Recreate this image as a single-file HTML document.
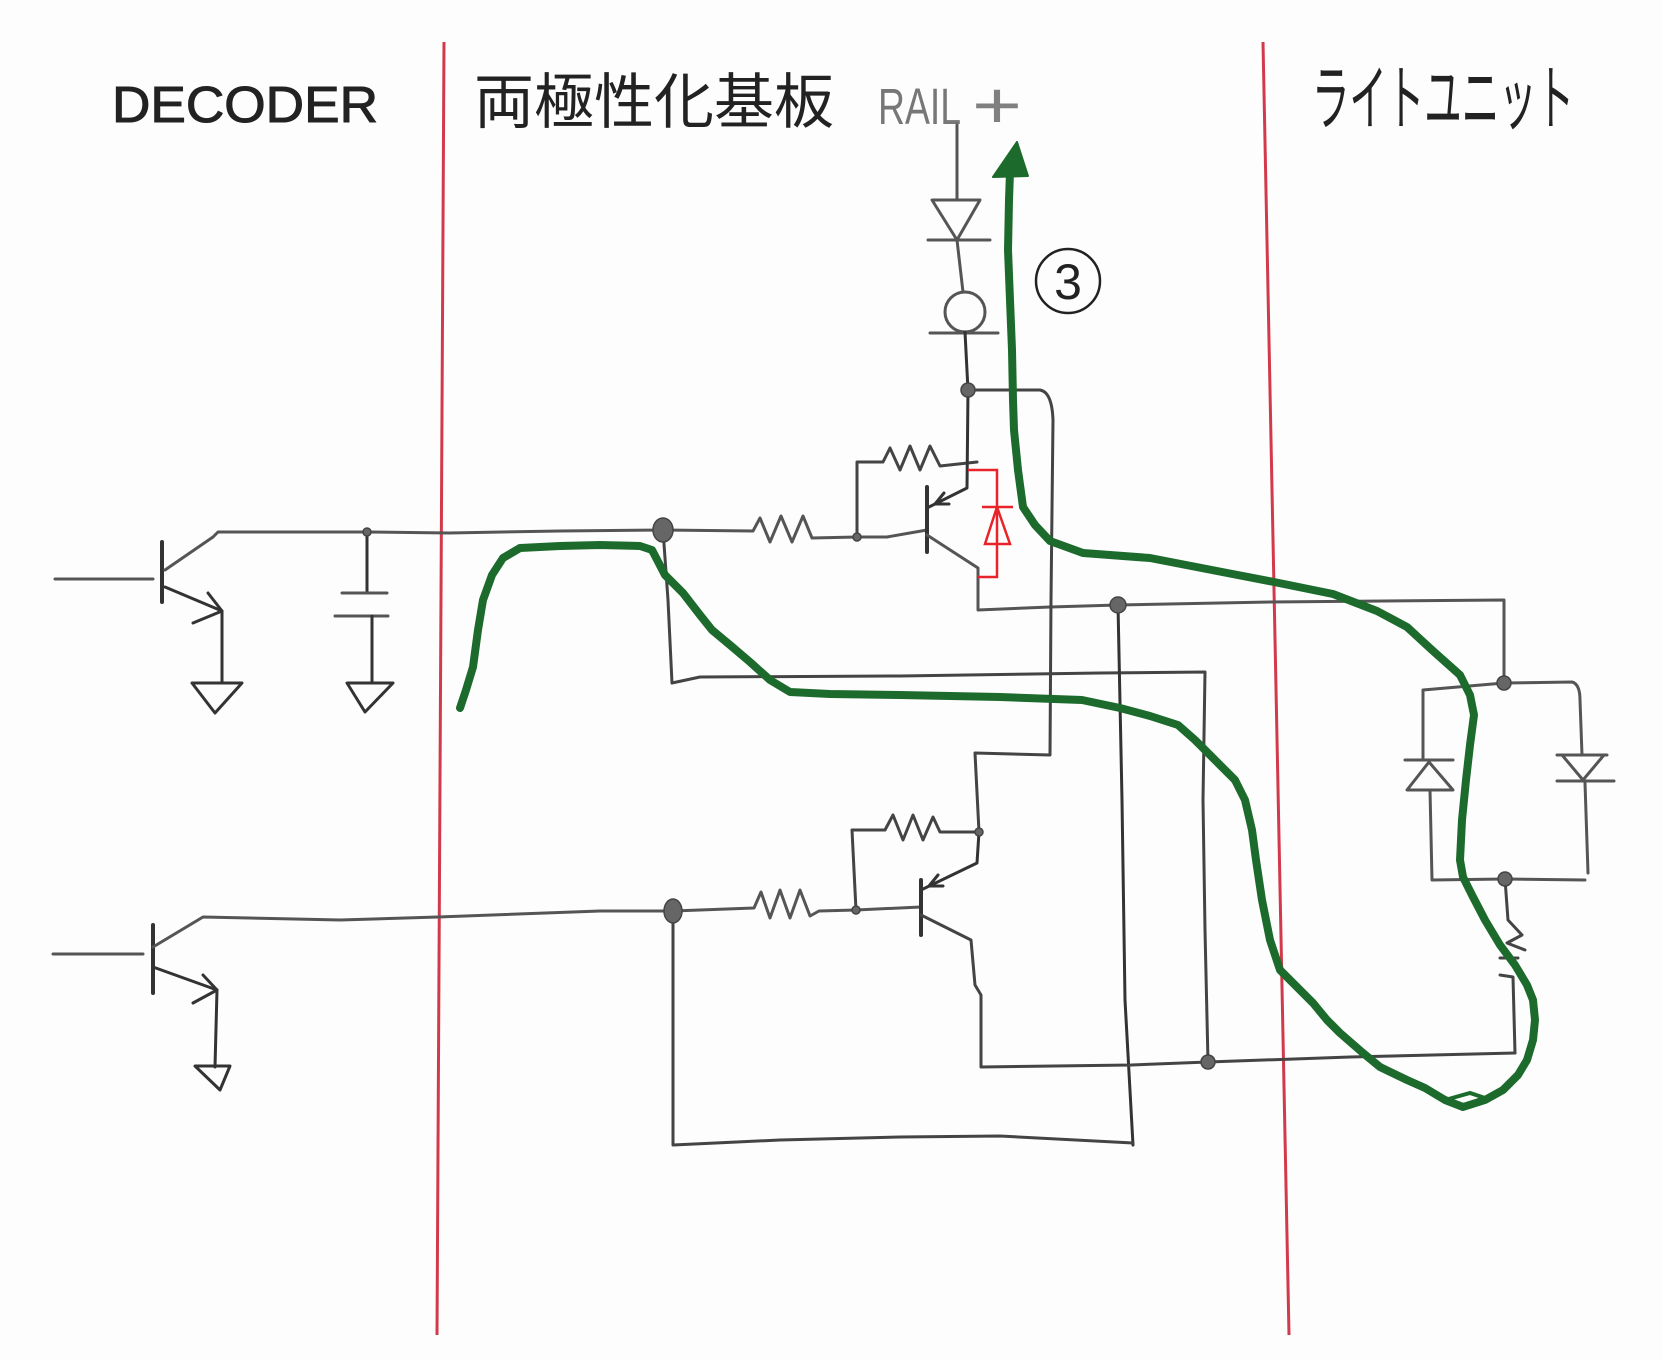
<!DOCTYPE html>
<html><head><meta charset="utf-8"><style>
html,body{margin:0;padding:0;background:#fff;}
svg{display:block;}
</style></head><body>
<svg width="1662" height="1360" viewBox="0 0 1662 1360" xmlns="http://www.w3.org/2000/svg">
<rect width="1662" height="1360" fill="#fdfdfd"/>

<!-- red dividers -->
<line x1="444" y1="42" x2="437" y2="1335" stroke="#d23a4c" stroke-width="3"/>
<line x1="1263" y1="42" x2="1289" y2="1335" stroke="#d23a4c" stroke-width="3"/>

<!-- headings -->
<text x="112" y="122" font-family="'Liberation Sans', sans-serif" font-size="51" textLength="266" lengthAdjust="spacingAndGlyphs" fill="#222" stroke="#222" stroke-width="1">DECODER</text>
<text x="474" y="123" font-family="'Liberation Sans','Noto Sans CJK JP',sans-serif" font-size="60" textLength="360" lengthAdjust="spacingAndGlyphs" fill="#222">両極性化基板</text>
<text x="878" y="124" font-family="'Liberation Sans', sans-serif" font-size="51" textLength="83" lengthAdjust="spacingAndGlyphs" fill="#777">RAIL</text>
<text x="972" y="128" font-family="'Liberation Sans', sans-serif" font-size="66" textLength="50" lengthAdjust="spacingAndGlyphs" fill="#808080">+</text>
<text x="1312" y="124" font-family="'Liberation Sans','Noto Sans CJK JP',sans-serif" font-size="72" textLength="262" lengthAdjust="spacingAndGlyphs" fill="#222">ライトユニット</text>

<!-- circled 3 -->
<circle cx="1068" cy="281" r="32" fill="none" stroke="#222" stroke-width="2.5"/>
<text x="1068" y="299" text-anchor="middle" font-family="'Liberation Sans', sans-serif" font-size="50" fill="#222">3</text>

<!-- wires -->
<g fill="none" stroke="#555" stroke-width="3" stroke-linecap="round" stroke-linejoin="round">
  <!-- decoder upper transistor -->
  <path d="M55,579 L153,579"/>
  <path d="M162,542 L162,602" stroke-width="4" stroke="#333"/>
  <path d="M165,570 L213,537 L218,532 L367,532 L449,533 L560,531 L663,530"/>
  <path d="M165,587 L222,611" stroke="#333"/>
  <path d="M208,593 L222,611 L193,623" stroke="#333"/>
  <path d="M222,611 L222,683" stroke="#333"/>
  <path d="M192,683 L242,683 L215,713 Z" stroke="#333"/>
  <!-- capacitor -->
  <path d="M367,532 L367,593" stroke="#333"/>
  <path d="M342,593 L387,593"/>
  <path d="M335,616 L388,616"/>
  <path d="M372,616 L372,683" stroke="#333"/>
  <path d="M347,683 L393,683 L365,712 Z" stroke="#333"/>

  <!-- decoder lower transistor -->
  <path d="M53,954 L143,954"/>
  <path d="M153,925 L153,993" stroke-width="4" stroke="#333"/>
  <path d="M153,947 L203,917 L340,920 L438,917 L600,911 L673,911"/>
  <path d="M153,967 L217,990" stroke="#333"/>
  <path d="M203,975 L217,990 L193,1003" stroke="#333"/>
  <path d="M217,990 L215,1067" stroke="#333"/>
  <path d="M195,1066 L230,1066 L220,1090 Z" stroke="#333"/>

  <!-- upper middle transistor -->
  <path d="M663,530 L753,531 L760,518 L770,542 L781,516 L792,542 L803,516 L812,538 L857,537 L887,537 L927,530"/>
  <path d="M857,537 L857,462 L883,462 L890,448 L900,470 L910,446 L920,470 L930,446 L940,466 L977,462" stroke="#444"/>
  <path d="M927,487 L927,552" stroke-width="4" stroke="#333"/>
  <path d="M927,508 L967,488 L968,390" stroke="#333"/>
  <path d="M949,504 L935,504 L944,493" stroke="#333"/>
  <path d="M927,535 L978,568 L978,610 L1050,607 L1118,605 L1270,602 L1504,600 L1504,683"/>
  <path d="M663,530 L668,600 L672,683 L700,677 L900,676 L1100,673 L1205,672 L1203,800 L1205,930 L1208,1062" stroke="#444"/>

  <!-- rail chain -->
  <path d="M957,125 L957,200"/>
  <path d="M932,200 L980,200 L957,240 Z"/>
  <path d="M928,240 L990,240"/>
  <path d="M957,240 L963,292"/>
  <circle cx="965" cy="312" r="20"/>
  <path d="M930,333 L998,333"/>
  <path d="M965,332 L968,390" stroke="#333"/>
  <path d="M968,390 L1040,390 Q1052,392 1053,420 L1051,600 L1050,755 L975,753 L979,832" stroke="#444"/>

  <!-- V2 -->
  <path d="M1118,605 L1122,800 L1125,1000 L1133,1145" stroke="#333"/>

  <!-- lower middle transistor -->
  <path d="M673,911 L754,908 L761,892 L770,918 L780,890 L790,918 L800,890 L810,916 L819,911 L856,910 L921,907"/>
  <path d="M856,910 L852,830 L885,830 L893,815 L903,840 L913,815 L923,840 L933,817 L940,832 L979,832" stroke="#444"/>
  <path d="M979,832 L977,863 L921,890" stroke="#333"/>
  <path d="M943,886 L929,886 L938,875" stroke="#333"/>
  <path d="M921,880 L921,935" stroke-width="4" stroke="#333"/>
  <path d="M921,915 L971,940 L975,985 L981,995 L981,1067 L1131,1065 L1208,1062 L1350,1057 L1515,1053" stroke="#444"/>
  <path d="M673,911 L673,1145 L780,1140 L900,1137 L1000,1136 L1133,1143" stroke="#444"/>

  <!-- light unit -->
  <path d="M1504,683 L1423,690 L1423,760"/>
  <path d="M1405,760 L1453,760"/>
  <path d="M1429,762 L1407,790 L1453,790 Z"/>
  <path d="M1430,790 L1432,880 L1505,879 L1585,880"/>
  <path d="M1504,683 L1572,682 Q1580,684 1580,700 L1582,755"/>
  <path d="M1557,755 L1607,755"/>
  <path d="M1562,755 L1583,780 L1604,755"/>
  <path d="M1557,781 L1614,781"/>
  <path d="M1585,783 L1588,873"/>
  <path d="M1505,879 L1508,920 L1522,935 L1507,943 L1525,950 M1500,958 L1518,958 M1500,975 L1513,977 L1515,1053" stroke="#444"/>
</g>

<!-- red diode -->
<g fill="none" stroke="#e8242a" stroke-width="2.5">
  <path d="M968,470 L997,470 L997,577 L978,577"/>
  <path d="M997,507 L985,544 L1010,544 Z"/>
  <path d="M982,507 L1013,507"/>
</g>

<!-- junction dots -->
<g fill="#666" stroke="#444" stroke-width="1.5">
  <ellipse cx="663" cy="530" rx="10" ry="12"/>
  <ellipse cx="673" cy="911" rx="9" ry="12"/>
  <circle cx="968" cy="390" r="7"/>
  <circle cx="1118" cy="605" r="8"/>
  <circle cx="1208" cy="1062" r="7"/>
  <circle cx="1504" cy="683" r="7"/>
  <circle cx="1505" cy="879" r="7"/>
  <circle cx="367" cy="532" r="4"/>
  <circle cx="857" cy="537" r="4"/>
  <circle cx="856" cy="910" r="4"/>
  <circle cx="979" cy="832" r="4"/>
</g>

<!-- green current path -->
<path d="M460,708 L466,690 L473,667 L478,630 L483,600 L492,575 L503,558 L520,548 L560,546 L600,545 L640,546 L652,550 L665,575 L683,593 L700,615 L712,630 L730,645 L750,662 L770,680 L790,692 L830,694 L900,695 L1000,697 L1082,700 L1120,708 L1150,716 L1178,725 L1195,740 L1215,760 L1235,780 L1245,800 L1252,830 L1256,860 L1262,900 L1270,940 L1280,970 L1295,985 L1313,1003 L1327,1020 L1340,1033 L1363,1053 L1380,1067 L1407,1080 L1425,1088 L1445,1100 L1463,1107 L1485,1100 L1503,1090 L1518,1075 L1527,1060 L1533,1040 L1535,1020 L1533,1000 L1527,985 L1515,965 L1500,945 L1485,920 L1472,895 L1463,877 L1460,860 L1462,820 L1466,780 L1470,745 L1474,715 L1470,695 L1460,675 L1432,650 L1407,627 L1377,611 L1333,594 L1274,582 L1217,571 L1150,558 L1083,553 L1050,541 L1035,525 L1023,507 L1018,470 L1014,430 L1013,400 L1012,350 L1010,300 L1008,250 L1009,200 L1010,172" fill="none" stroke="#1d6b2c" stroke-width="8" stroke-linecap="round" stroke-linejoin="round"/>
<path d="M1445,1100 L1470,1093 L1485,1098" fill="none" stroke="#1d6b2c" stroke-width="4" stroke-linecap="round"/>
<polygon points="1017,142 993,177 1028,176" fill="#1d6b2c" stroke="#1d6b2c" stroke-width="2" stroke-linejoin="round"/>
</svg>
</body></html>
